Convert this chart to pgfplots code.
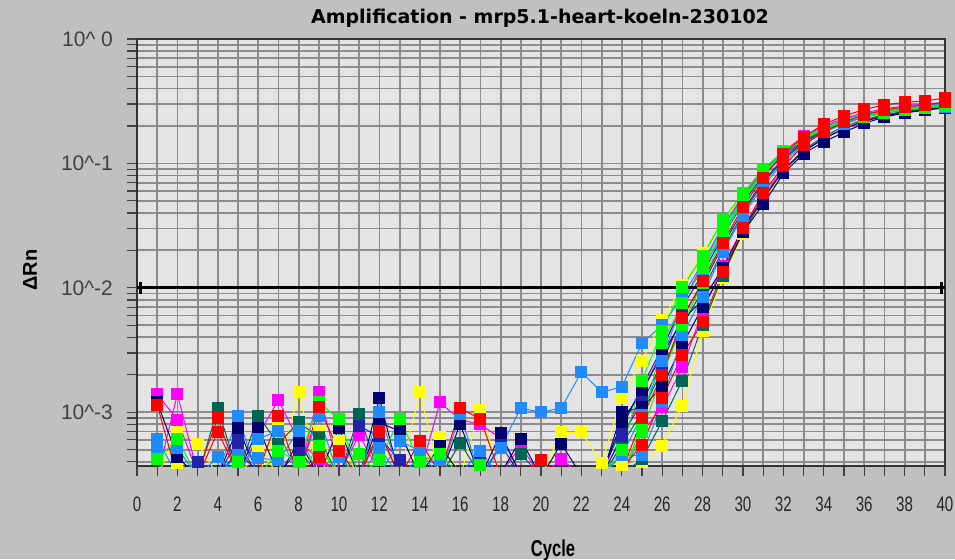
\documentclass[border=0pt]{standalone}
\usepackage{pgfplots}
\pgfplotsset{compat=1.18}
\usepackage{fontspec}
\setmainfont{Liberation Sans}
\newfontfamily\titlefont{DejaVu Sans}
\newfontfamily\narrowfont[FakeStretch=0.72]{Liberation Sans}

\definecolor{outerbg}{RGB}{192,192,192}
\definecolor{plotbg}{RGB}{228,228,228}
\definecolor{gridc}{RGB}{140,140,140}
\definecolor{cR}{RGB}{255,0,0}
\definecolor{cG}{RGB}{0,255,0}
\definecolor{cB}{RGB}{30,140,255}
\definecolor{cN}{RGB}{0,0,110}
\definecolor{cM}{RGB}{35,35,170}
\definecolor{cT}{RGB}{0,100,85}
\definecolor{cP}{RGB}{255,0,255}
\definecolor{cY}{RGB}{255,255,0}

\pgfplotsset{
  well/.style={color=#1, line width=0.5pt, mark=square*, mark size=2.75pt,
    mark options={solid, fill=#1, draw=#1}},
}

\begin{document}
\begin{tikzpicture}
\useasboundingbox (0,0) rectangle (477.5pt,279.5pt);
\clip (0,0) rectangle (477.5pt,279.5pt);
\fill[outerbg] (0,0) rectangle (477.5pt,279.5pt);

\node[font=\titlefont\bfseries\fontsize{9.5}{11}\selectfont] at (270pt,270.5pt)
  {Amplification - mrp5.1-heart-koeln-230102};
\node[rotate=90, font=\bfseries\fontsize{10}{12}\selectfont] at (15pt,144.5pt) {ΔRn};
\node[font=\narrowfont\bfseries\fontsize{11.5}{13}\selectfont] at (276.5pt,4pt) {Cycle};

\begin{axis}[
  at={(68.5pt,46.5pt)}, anchor=south west,
  scale only axis, width=404pt, height=213.5pt,
  xmin=0, xmax=40, ymode=log, ymin=3.7e-4, ymax=1,
  axis background/.style={fill=plotbg},
  xtick={0,2,...,40}, minor xtick={1,3,...,39},
  /pgf/number format/assume math mode=true,
  ytick={1e-3,1e-2,1e-1,1},
  minor ytick={4e-4,5e-4,6e-4,7e-4,8e-4,9e-4,
               2e-3,3e-3,4e-3,5e-3,6e-3,7e-3,8e-3,9e-3,
               2e-2,3e-2,4e-2,5e-2,6e-2,7e-2,8e-2,9e-2,
               0.2,0.3,0.4,0.5,0.6,0.7,0.8,0.9},
  yticklabels={{10\textasciicircum-3},{10\textasciicircum-2},{10\textasciicircum-1},{10\textasciicircum\ 0}},
  grid=both,
  major grid style={gridc, line width=0.9pt},
  minor grid style={gridc, line width=0.9pt},
  tick align=outside, xtick pos=left, ytick pos=left,
  major tick length=5pt, minor tick length=5pt,
  every tick/.style={black!75, line width=0.6pt},
  axis line style={black!80, line width=0.9pt},
  xticklabel style={font=\narrowfont\fontsize{10.5}{12}\selectfont, text=black!85, yshift=-7pt},
  yticklabel style={font=\fontsize{10.5}{12}\selectfont, text=black!75, xshift=-3.5pt},
  clip=true,
]

% yellow wells
\addplot[well=cY] coordinates {(1,3.0e-4) (2,3.9e-4) (3,3.1e-4) (4,3.0e-4) (5,3.2e-4) (6,3.0e-4) (7,8.7e-4) (8,3.1e-4) (9,7.1e-4) (10,3.0e-4) (11,3.2e-4) (12,3.0e-4) (13,3.1e-4) (14,3.0e-4) (15,6.3e-4) (16,3.1e-4) (17,3.0e-4) (18,3.2e-4) (19,3.0e-4) (20,3.1e-4) (21,3.0e-4) (22,3.2e-4) (23,3.0e-4) (24,3.8e-4) (25,4.0e-4) (26,5.4e-4) (27,1.13e-3) (28,4.5e-3) (29,1.2e-2) (30,2.7e-2) (31,5.0e-2) (32,0.085) (33,0.125) (34,0.16) (35,0.192) (36,0.22) (37,0.242) (38,0.258) (39,0.27) (40,0.28)};
\addplot[well=cY] coordinates {(1,3.0e-4) (2,7.1e-4) (3,5.6e-4) (4,3.1e-4) (5,3.0e-4) (6,5.0e-4) (7,3.2e-4) (8,1.45e-3) (9,3.1e-4) (10,5.9e-4) (11,3.0e-4) (12,3.2e-4) (13,3.1e-4) (14,1.45e-3) (15,3.0e-4) (16,3.1e-4) (17,1.05e-3) (18,3.0e-4) (19,3.2e-4) (20,3.0e-4) (21,6.9e-4) (22,6.9e-4) (23,3.9e-4) (24,1.3e-3) (25,2.6e-3) (26,5.5e-3) (27,1.05e-2) (28,1.9e-2) (29,3.4e-2) (30,5.6e-2) (31,8.7e-2) (32,0.122) (33,0.158) (34,0.19) (35,0.218) (36,0.24) (37,0.258) (38,0.272) (39,0.282) (40,0.29)};
% magenta wells
\addplot[well=cP] coordinates {(1,3.0e-4) (2,1.4e-3) (3,3.2e-4) (4,3.0e-4) (5,3.1e-4) (6,3.0e-4) (7,3.2e-4) (8,3.0e-4) (9,1.45e-3) (10,3.5e-4) (11,3.0e-4) (12,3.1e-4) (13,3.0e-4) (14,3.2e-4) (15,3.0e-4) (16,3.1e-4) (17,3.0e-4) (18,3.2e-4) (19,5.4e-4) (20,3.0e-4) (21,3.1e-4) (22,3.0e-4) (23,3.2e-4) (24,3.0e-4) (25,6.9e-4) (26,1.1e-3) (27,2.3e-3) (28,6.5e-3) (29,1.5e-2) (30,3.0e-2) (31,5.5e-2) (32,0.09) (33,0.125) (34,0.16) (35,0.19) (36,0.22) (37,0.245) (38,0.26) (39,0.275) (40,0.285)};
\addplot[well=cP] coordinates {(1,1.4e-3) (2,8.7e-4) (3,3.2e-4) (4,3.3e-4) (5,3.0e-4) (6,6.6e-4) (7,1.25e-3) (8,5.9e-4) (9,4.2e-4) (10,3.2e-4) (11,6.6e-4) (12,3.3e-4) (13,3.1e-4) (14,3.2e-4) (15,1.2e-3) (16,8.7e-4) (17,8.0e-4) (18,6.2e-4) (19,3.3e-4) (20,3.0e-4) (21,4.2e-4) (22,3.1e-4) (23,3.2e-4) (24,6.0e-4) (25,1.4e-3) (26,3.2e-3) (27,7.5e-3) (28,1.55e-2) (29,3.1e-2) (30,5.5e-2) (31,8.8e-2) (32,0.125) (33,0.165) (34,0.2) (35,0.23) (36,0.255) (37,0.275) (38,0.29) (39,0.3) (40,0.31)};
% teal wells
\addplot[well=cT] coordinates {(22,3.1e-4) (23,3.0e-4) (24,3.2e-4) (25,4.2e-4) (26,8.5e-4) (27,1.8e-3) (28,5.0e-3) (29,1.25e-2) (30,2.8e-2) (31,5.2e-2) (32,0.088) (33,0.128) (34,0.165) (35,0.198) (36,0.225) (37,0.246) (38,0.262) (39,0.273) (40,0.282)};
\addplot[well=cT] coordinates {(1,3.0e-4) (2,3.1e-4) (3,3.0e-4) (4,1.08e-3) (5,3.2e-4) (6,9.3e-4) (7,5.6e-4) (8,8.3e-4) (9,6.3e-4) (10,3.0e-4) (11,9.6e-4) (12,3.1e-4) (13,3.0e-4) (14,3.2e-4) (15,3.0e-4) (16,5.7e-4) (17,3.1e-4) (18,3.0e-4) (19,4.6e-4) (20,3.1e-4) (21,3.0e-4) (22,3.2e-4) (23,3.0e-4) (24,5.5e-4) (25,1.0e-3) (26,2.2e-3) (27,5.0e-3) (28,9.5e-3) (29,2.0e-2) (30,4.0e-2) (31,7.0e-2) (32,0.107) (33,0.146) (34,0.182) (35,0.212) (36,0.237) (37,0.256) (38,0.27) (39,0.28) (40,0.288)};
% medium blue wells
\addplot[well=cM] coordinates {(1,3.1e-4) (2,3.0e-4) (3,3.1e-4) (4,3.0e-4) (5,5.0e-4) (6,3.2e-4) (7,3.0e-4) (8,3.1e-4) (9,3.0e-4) (10,3.2e-4) (11,3.0e-4) (12,3.1e-4) (13,3.0e-4) (14,3.2e-4) (15,3.0e-4) (16,3.1e-4) (17,3.0e-4) (18,5.5e-4) (19,3.1e-4) (20,3.0e-4) (21,3.1e-4) (22,3.0e-4) (23,3.2e-4) (24,7.5e-4) (25,1.6e-3) (26,3.3e-3) (27,7.0e-3) (28,1.3e-2) (29,2.6e-2) (30,4.8e-2) (31,8.0e-2) (32,0.116) (33,0.152) (34,0.186) (35,0.214) (36,0.238) (37,0.256) (38,0.27) (39,0.28) (40,0.288)};
\addplot[well=cM] coordinates {(1,3.0e-4) (2,3.2e-4) (3,4.0e-4) (4,3.1e-4) (5,6.0e-4) (6,3.0e-4) (7,3.2e-4) (8,5.0e-4) (9,3.1e-4) (10,3.0e-4) (11,7.8e-4) (12,6.3e-4) (13,4.1e-4) (14,3.0e-4) (15,3.1e-4) (16,3.2e-4) (17,4.1e-4) (18,3.0e-4) (19,3.1e-4) (20,3.0e-4) (21,3.2e-4) (22,3.1e-4) (23,3.0e-4) (24,6.5e-4) (25,1.2e-3) (26,2.5e-3) (27,6.0e-3) (28,1.05e-2) (29,2.2e-2) (30,4.2e-2) (31,7.2e-2) (32,0.11) (33,0.15) (34,0.185) (35,0.215) (36,0.24) (37,0.26) (38,0.275) (39,0.285) (40,0.293)};
% navy wells
\addplot[well=cN] coordinates {(1,3.0e-4) (2,3.1e-4) (3,3.2e-4) (4,3.0e-4) (5,3.1e-4) (6,7.5e-4) (7,3.2e-4) (8,3.0e-4) (9,3.1e-4) (10,3.0e-4) (11,3.2e-4) (12,8.2e-4) (13,7.1e-4) (14,3.0e-4) (15,3.1e-4) (16,8.0e-4) (17,3.0e-4) (18,3.2e-4) (19,6.1e-4) (20,3.0e-4) (21,3.1e-4) (22,3.0e-4) (23,3.2e-4) (24,8.3e-4) (25,1.5e-3) (26,2.9e-3) (27,5.5e-3) (28,8.0e-3) (29,1.44e-2) (30,3.0e-2) (31,5.2e-2) (32,0.088) (33,0.125) (34,0.158) (35,0.19) (36,0.218) (37,0.24) (38,0.258) (39,0.27) (40,0.28)};
\addplot[well=cN] coordinates {(1,1.2e-3) (2,4.4e-4) (3,3.0e-4) (4,3.1e-4) (5,7.5e-4) (6,3.2e-4) (7,3.0e-4) (8,5.9e-4) (9,3.1e-4) (10,7.5e-4) (11,3.0e-4) (12,1.3e-3) (13,3.0e-4) (14,3.1e-4) (15,5.4e-4) (16,3.2e-4) (17,3.0e-4) (18,6.8e-4) (19,3.1e-4) (20,3.0e-4) (21,5.6e-4) (22,3.1e-4) (23,3.0e-4) (24,1.0e-3) (25,1.1e-3) (26,1.6e-3) (27,3.5e-3) (28,7.0e-3) (29,1.34e-2) (30,2.8e-2) (31,4.7e-2) (32,0.083) (33,0.12) (34,0.149) (35,0.178) (36,0.21) (37,0.236) (38,0.254) (39,0.268) (40,0.28)};
% blue wells
\addplot[well=cB] coordinates {(1,3.0e-4) (2,3.1e-4) (3,3.0e-4) (4,3.2e-4) (5,4.5e-4) (6,4.3e-4) (7,4.1e-4) (8,7.1e-4) (9,3.0e-4) (10,3.1e-4) (11,3.0e-4) (12,5.2e-4) (13,3.0e-4) (14,4.4e-4) (15,4.1e-4) (16,3.0e-4) (17,3.1e-4) (18,3.0e-4) (19,3.2e-4) (20,3.0e-4) (21,3.1e-4) (22,3.0e-4) (23,3.2e-4) (24,4.5e-4) (25,4.5e-4) (26,1.2e-3) (27,4.2e-3) (28,8.5e-3) (29,1.95e-2) (30,3.8e-2) (31,6.6e-2) (32,0.102) (33,0.142) (34,0.178) (35,0.208) (36,0.235) (37,0.255) (38,0.27) (39,0.28) (40,0.29)};
\addplot[well=cB] coordinates {(1,4.9e-4) (2,5.2e-4) (3,3.0e-4) (4,4.4e-4) (5,3.1e-4) (6,6.1e-4) (7,7.1e-4) (8,3.0e-4) (9,3.2e-4) (10,4.4e-4) (11,3.0e-4) (12,3.1e-4) (13,5.9e-4) (14,4.9e-4) (15,3.0e-4) (16,3.2e-4) (17,4.9e-4) (18,3.0e-4) (19,3.1e-4) (20,3.0e-4) (21,3.2e-4) (22,3.0e-4) (23,3.1e-4) (24,4.5e-4) (25,9.5e-4) (26,2.6e-3) (27,8.0e-3) (28,1.4e-2) (29,2.75e-2) (30,5.0e-2) (31,8.2e-2) (32,0.118) (33,0.155) (34,0.188) (35,0.215) (36,0.238) (37,0.255) (38,0.268) (39,0.278) (40,0.286)};
\addplot[well=cB] coordinates {(1,6.1e-4) (2,3.1e-4) (3,3.0e-4) (4,3.2e-4) (5,9.3e-4) (6,3.0e-4) (7,3.1e-4) (8,3.2e-4) (9,9.3e-4) (10,3.0e-4) (11,3.1e-4) (12,1.0e-3) (13,3.2e-4) (14,3.0e-4) (15,3.1e-4) (16,9.6e-4) (17,3.0e-4) (18,5.2e-4) (19,1.08e-3) (20,1.0e-3) (21,1.08e-3) (22,2.1e-3) (23,1.45e-3) (24,1.6e-3) (25,3.6e-3) (26,5.0e-3) (27,8.5e-3) (28,1.6e-2) (29,3.1e-2) (30,5.3e-2) (31,8.6e-2) (32,0.122) (33,0.16) (34,0.195) (35,0.225) (36,0.25) (37,0.268) (38,0.283) (39,0.293) (40,0.302)};
% green wells
\addplot[well=cG] coordinates {(23,3.2e-4) (24,3.0e-4) (25,8.0e-4) (26,3.6e-3) (27,7.5e-3) (28,1.45e-2) (29,2.9e-2) (30,5.2e-2) (31,8.5e-2) (32,0.12) (33,0.156) (34,0.188) (35,0.215) (36,0.238) (37,0.256) (38,0.27) (39,0.28) (40,0.29)};
\addplot[well=cG] coordinates {(1,3.0e-4) (2,3.1e-4) (3,3.0e-4) (4,3.2e-4) (5,3.0e-4) (6,3.1e-4) (7,3.2e-4) (8,3.0e-4) (9,5.4e-4) (10,3.1e-4) (11,4.6e-4) (12,3.1e-4) (13,3.0e-4) (14,3.2e-4) (15,3.0e-4) (16,3.1e-4) (17,3.0e-4) (18,3.2e-4) (19,3.0e-4) (20,3.1e-4) (21,3.0e-4) (22,3.2e-4) (23,3.0e-4) (24,3.1e-4) (25,7.0e-4) (26,2.0e-3) (27,5.0e-3) (28,1.1e-2) (29,2.6e-2) (30,5.0e-2) (31,8.3e-2) (32,0.12) (33,0.158) (34,0.19) (35,0.218) (36,0.24) (37,0.258) (38,0.272) (39,0.282) (40,0.29)};
\addplot[well=cG] coordinates {(1,4.2e-4) (2,6.1e-4) (3,3.0e-4) (4,3.1e-4) (5,4.0e-4) (6,3.0e-4) (7,4.9e-4) (8,4.0e-4) (9,1.2e-3) (10,8.8e-4) (11,3.1e-4) (12,4.1e-4) (13,8.8e-4) (14,4.0e-4) (15,4.6e-4) (16,3.1e-4) (17,3.8e-4) (18,3.0e-4) (19,3.1e-4) (20,3.0e-4) (21,3.2e-4) (22,3.0e-4) (23,3.1e-4) (24,5.0e-4) (25,1.8e-3) (26,4.5e-3) (27,1.01e-2) (28,1.8e-2) (29,3.5e-2) (30,5.8e-2) (31,9.0e-2) (32,0.125) (33,0.16) (34,0.192) (35,0.22) (36,0.245) (37,0.262) (38,0.277) (39,0.287) (40,0.297)};
% red wells
\addplot[well=cR] coordinates {(1,3.0e-4) (2,3.1e-4) (3,3.0e-4) (4,7.0e-4) (5,3.2e-4) (6,3.0e-4) (7,3.1e-4) (8,3.0e-4) (9,1.1e-3) (10,4.9e-4) (11,3.0e-4) (12,7.0e-4) (13,3.1e-4) (14,3.0e-4) (15,3.2e-4) (16,3.0e-4) (17,3.1e-4) (18,3.0e-4) (19,3.2e-4) (20,3.0e-4) (21,3.1e-4) (22,3.0e-4) (23,3.1e-4) (24,3.5e-4) (25,5.5e-4) (26,1.3e-3) (27,2.9e-3) (28,5.3e-3) (29,1.35e-2) (30,3.0e-2) (31,5.8e-2) (32,0.095) (33,0.14) (34,0.18) (35,0.215) (36,0.245) (37,0.268) (38,0.285) (39,0.295) (40,0.31)};
\addplot[well=cR] coordinates {(1,1.15e-3) (2,3.0e-4) (3,3.2e-4) (4,9.0e-4) (5,3.1e-4) (6,3.3e-4) (7,9.3e-4) (8,3.0e-4) (9,4.4e-4) (10,3.2e-4) (11,3.1e-4) (12,7.1e-4) (13,3.0e-4) (14,5.9e-4) (15,3.2e-4) (16,1.08e-3) (17,8.8e-4) (18,3.1e-4) (19,3.2e-4) (20,4.1e-4) (21,3.0e-4) (22,3.1e-4) (23,3.2e-4) (24,3.3e-4) (25,9.0e-4) (26,2.0e-3) (27,5.7e-3) (28,1.13e-2) (29,2.3e-2) (30,4.5e-2) (31,7.7e-2) (32,0.12) (33,0.163) (34,0.207) (35,0.24) (36,0.272) (37,0.295) (38,0.31) (39,0.318) (40,0.335)};

% threshold line with its end bars
\addplot[black, line width=1.5pt] coordinates {(0,0.01) (40,0.01)};
\addplot[black, line width=1.5pt] coordinates {(0.15,0.0089) (0.15,0.0112)};
\addplot[black, line width=1.5pt] coordinates {(39.85,0.0089) (39.85,0.0112)};
\end{axis}
\end{tikzpicture}
\end{document}
